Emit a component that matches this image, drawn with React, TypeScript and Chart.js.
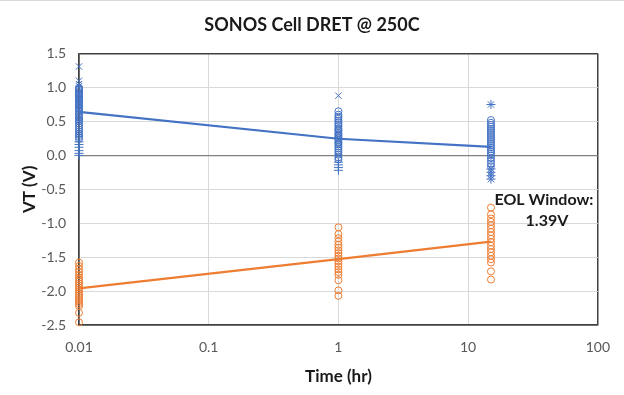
import React, { useEffect, useRef } from "react";
import { Chart, registerables } from "chart.js";

Chart.register(...registerables);

const title = "SONOS Cell DRET @ 250C";
const xTitle = "Time (hr)";
const yTitle = "VT (V)";
const annotationLines = ["EOL Window:", "1.39V"];

const times = [0.01, 1, 15];
const xTicks = [0.01, 0.1, 1, 10, 100];

// Blue series
const blueCircles001 = [1.0, 0.98, 0.97, 0.95, 0.93, 0.91, 0.9, 0.88, 0.86, 0.85, 0.83, 0.81, 0.79, 0.77, 0.75, 0.73, 0.71, 0.69, 0.67, 0.65, 0.62, 0.6, 0.57, 0.55, 0.52, 0.5, 0.47, 0.44, 0.41, 0.38, 0.35, 0.32, 0.3, 0.27, 0.24];
const bluePlus001 = [0.2, 0.16, 0.12, 0.07, 0.03, 0.0];
const blueX001 = [1.31, 1.1, 1.05];

const blueCircles1 = [0.65, 0.6, 0.57, 0.54, 0.51, 0.48, 0.45, 0.43, 0.4, 0.38, 0.36, 0.33, 0.31, 0.29, 0.27, 0.25, 0.23, 0.2, 0.18, 0.16, 0.13, 0.1, 0.07, 0.04, 0.01, -0.03, -0.06];
const bluePlus1 = [-0.1, -0.14, -0.18, -0.22];
const blueX1 = [0.88];

const blueCircles15 = [0.52, 0.48, 0.45, 0.42, 0.39, 0.36, 0.33, 0.3, 0.27, 0.24, 0.21, 0.18, 0.15, 0.12, 0.09, 0.06, 0.03, 0.0, -0.04, -0.08, -0.12, -0.16];
const blueStar15 = [0.75, -0.2, -0.25, -0.3, -0.35];

// Orange series
const orange001 = [-1.58, -1.63, -1.68, -1.72, -1.76, -1.8, -1.83, -1.86, -1.89, -1.92, -1.95, -1.98, -2.01, -2.04, -2.07, -2.1, -2.13, -2.16, -2.19, -2.22, -2.32, -2.46];
const orange1 = [-1.06, -1.16, -1.22, -1.27, -1.32, -1.36, -1.4, -1.44, -1.48, -1.52, -1.56, -1.6, -1.64, -1.68, -1.72, -1.76, -1.84, -1.99, -2.07];
const orange15 = [-0.77, -0.87, -0.93, -0.98, -1.03, -1.08, -1.13, -1.18, -1.23, -1.28, -1.33, -1.38, -1.43, -1.48, -1.53, -1.58, -1.71, -1.83];

// Mean trend lines
const blueTrend = [0.64, 0.245, 0.127];
const orangeTrend = [-1.96, -1.53, -1.27];

const BLUE = "#4472C4";
const ORANGE = "#ED7D31";

const pts = (t: number, vals: number[]) => vals.map((v) => ({ x: t, y: v }));

const annotationPlugin = {
  id: "eolAnnotation",
  afterDraw(chart: any) {
    const ctx = chart.ctx;
    ctx.save();
    ctx.strokeStyle = "#d9d9d9";
    ctx.lineWidth = 1;
    ctx.beginPath();
    ctx.moveTo(0, 0.5);
    ctx.lineTo(chart.width, 0.5);
    ctx.stroke();

    const xs = chart.scales.x;
    const ys = chart.scales.y;
    ctx.fillStyle = "#1a1a1a";
    ctx.font = "bold 16px Lato";
    ctx.textAlign = "center";
    ctx.textBaseline = "middle";
    const cx = xs.getPixelForValue(15);
    ctx.fillText(annotationLines[0], cx + 53, ys.getPixelForValue(-0.66));
    ctx.fillText(annotationLines[1], cx + 56, ys.getPixelForValue(-0.96));
    ctx.restore();
  },
};

export default function App() {
  const ref = useRef<HTMLCanvasElement | null>(null);
  useEffect(() => {
    if (!ref.current) return;
    Chart.defaults.font.family = "Lato";
    const circle = (label: string, color: string, data: any[]) => ({
      type: "scatter" as const,
      label,
      data,
      clip: false,
      pointStyle: "circle",
      pointRadius: 3.5,
      pointBorderWidth: 1,
      borderColor: color,
      backgroundColor: "rgba(0,0,0,0)",
      showLine: false,
    });
    const marker = (label: string, color: string, style: string, data: any[]) => ({
      type: "scatter" as const,
      label,
      data,
      clip: false,
      pointStyle: style,
      pointRadius: 4.5,
      pointBorderWidth: 1,
      borderColor: color,
      backgroundColor: color,
      showLine: false,
    });
    const chart = new Chart(ref.current, {
      type: "scatter",
      data: {
        datasets: [
          {
            type: "line",
            label: "Blue mean",
            data: times.map((t, i) => ({ x: t, y: blueTrend[i] })),
            borderColor: BLUE,
            borderWidth: 2.25,
            pointRadius: 0,
            fill: false,
            clip: false,
          },
          {
            type: "line",
            label: "Orange mean",
            data: times.map((t, i) => ({ x: t, y: orangeTrend[i] })),
            borderColor: ORANGE,
            borderWidth: 2.25,
            pointRadius: 0,
            fill: false,
            clip: false,
          },
          circle("Blue", BLUE, [...pts(times[0], blueCircles001), ...pts(times[1], blueCircles1), ...pts(times[2], blueCircles15)]),
          marker("Blue x", BLUE, "crossRot", [...pts(times[0], blueX001), ...pts(times[1], blueX1)]),
          marker("Blue +", BLUE, "cross", [...pts(times[0], bluePlus001), ...pts(times[1], bluePlus1)]),
          marker("Blue *", BLUE, "star", pts(times[2], blueStar15)),
          circle("Orange", ORANGE, [...pts(times[0], orange001), ...pts(times[1], orange1), ...pts(times[2], orange15)]),
        ] as any,
      },
      options: {
        animation: false,
        responsive: false,
        devicePixelRatio: 1,
        layout: { padding: { left: 0, right: 0, top: 0, bottom: 0 } },
        plugins: {
          legend: { display: false },
          tooltip: { enabled: false },
          title: {
            display: true,
            text: title,
            color: "#1a1a1a",
            font: { size: 18, weight: "bold", family: "Lato" },
            padding: { top: 14, bottom: 18 },
          },
        },
        scales: {
          x: {
            type: "logarithmic",
            min: 0.01,
            max: 100,
            afterBuildTicks: (scale: any) => {
              scale.ticks = xTicks.map((v) => ({ value: v }));
            },
            afterFit: (scale: any) => {
              scale.height = 70;
            },
            ticks: {
              color: "#595959",
              font: { size: 14 },
              padding: 14,
              maxRotation: 0,
              autoSkip: false,
              callback: (v: any) => String(v),
            },
            grid: {
              drawTicks: false,
              color: (c: any) => {
                const v = c.tick && c.tick.value;
                return v === 0.01 || v === 100 ? "#404040" : "#d9d9d9";
              },
              lineWidth: (c: any) => {
                const v = c.tick && c.tick.value;
                return v === 0.01 || v === 100 ? 1.5 : 1;
              },
            },
            border: { display: true, color: "#404040", width: 1.5 },
            title: {
              display: true,
              text: xTitle,
              color: "#1a1a1a",
              font: { size: 17, weight: "bold" },
              padding: { top: 0, bottom: 8 },
            },
          },
          y: {
            min: -2.5,
            max: 1.5,
            afterFit: (scale: any) => {
              scale.width = 79;
            },
            ticks: {
              stepSize: 0.5,
              color: "#595959",
              font: { size: 14 },
              padding: 13,
              callback: (v: any) => (Math.abs(v) < 1e-9 ? 0 : Number(v)).toFixed(1),
            },
            grid: {
              drawTicks: false,
              color: (c: any) => {
                const v = c.tick && c.tick.value;
                if (v === 1.5 || v === -2.5) return "#404040";
                if (Math.abs(v) < 1e-9) return "#7f7f7f";
                return "#d9d9d9";
              },
              lineWidth: (c: any) => {
                const v = c.tick && c.tick.value;
                if (v === 1.5 || v === -2.5) return 1.5;
                if (Math.abs(v) < 1e-9) return 1.25;
                return 1;
              },
            },
            border: { display: true, color: "#404040", width: 1.5 },
            title: {
              display: true,
              text: yTitle,
              color: "#1a1a1a",
              font: { size: 17, weight: "bold" },
              padding: { top: 19, bottom: 0 },
            },
          },
          yRight: {
            position: "right",
            min: -2.5,
            max: 1.5,
            display: true,
            afterFit: (scale: any) => {
              scale.width = 26;
            },
            ticks: { display: false },
            grid: { display: false, drawTicks: false },
            border: { display: false },
          },
        },
      } as any,
      plugins: [annotationPlugin],
    });
    return () => chart.destroy();
  }, []);
  return (
    <div style={{ position: "absolute", left: 0, top: 0, width: 624, height: 395, background: "#fff" }}>
      <canvas ref={ref} width={624} height={395} />
    </div>
  );
}
